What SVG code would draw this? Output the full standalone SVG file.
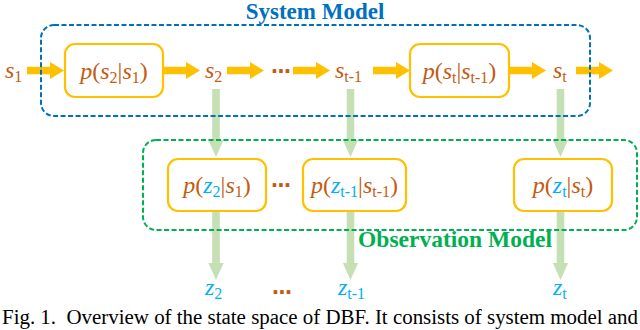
<svg xmlns="http://www.w3.org/2000/svg" xmlns:xlink="http://www.w3.org/1999/xlink" width="640" height="330" viewBox="0 0 640 330" font-family="'Liberation Serif','Times New Roman',serif">
<style>
.math{font-family:'Liberation Serif','Times New Roman',serif;font-size:24px;fill:#C55A11;}
.it{font-style:italic;}
.sub{font-size:16px;font-style:normal;}
.z{fill:#00B0F0;}
.node{fill:#FFFFFF;stroke:#FFC000;stroke-width:2.2;}
.dots{font-family:'Liberation Sans',Arial,sans-serif;font-weight:bold;font-size:25px;fill:#C55A11;letter-spacing:-0.5px;}
.title{font-family:'Liberation Serif','Times New Roman',serif;font-weight:bold;font-size:23px;}
.ya{fill:#FFC000;}
.ga{fill:#C5E0B4;}
.box{fill:none;stroke-width:2;stroke-dasharray:5 2.5;}
</style>
<defs>
<path id="yarrow" d="M0,-3.8 H23 V-8.5 L37,0 L23,8.5 V3.8 H0 Z"/>
<path id="garrow" d="M-3.8,0 V51 H-7.6 L0,68 L7.6,51 H3.8 V0 Z"/>
</defs>

<g id="connectors">
<use xlink:href="#yarrow" class="ya" x="27" y="70.5"/>
<use xlink:href="#yarrow" class="ya" x="163" y="70.5"/>
<use xlink:href="#yarrow" class="ya" x="227" y="70.5"/>
<use xlink:href="#yarrow" class="ya" x="293" y="70.5"/>
<use xlink:href="#yarrow" class="ya" x="373" y="70.5"/>
<use xlink:href="#yarrow" class="ya" x="509" y="70.5"/>
<use xlink:href="#yarrow" class="ya" x="576" y="70.5"/>
<use xlink:href="#garrow" class="ga" x="216" y="89"/>
<use xlink:href="#garrow" class="ga" x="350.5" y="89"/>
<use xlink:href="#garrow" class="ga" x="560.5" y="89"/>
<use xlink:href="#garrow" class="ga" x="216" y="212"/>
<use xlink:href="#garrow" class="ga" x="350.5" y="212"/>
<use xlink:href="#garrow" class="ga" x="560.5" y="212"/>
</g>

<g id="system-model">
<rect class="box" x="41" y="25" width="549" height="91" rx="13" stroke="#0070C0"/>
<text class="title" x="315" y="19" text-anchor="middle" fill="#0070C0">System Model</text>
</g>

<g id="observation-model">
<rect class="box" x="143" y="140" width="494" height="90" rx="13" stroke="#00B050"/>
<text class="title" x="455" y="247" text-anchor="middle" fill="#00B050" style="font-size:23.5px">Observation Model</text>
</g>

<g id="s1"><text class="math" x="5" y="78"><tspan class="it">s</tspan><tspan class="sub" dy="4">1</tspan></text></g>

<g id="p-s2-s1">
<rect class="node" x="65" y="44" width="98" height="53" rx="10"/>
<text class="math" x="114" y="79" text-anchor="middle"><tspan class="it">p</tspan>(<tspan class="it">s</tspan><tspan class="sub" dy="4">2</tspan><tspan dy="-4">|</tspan><tspan class="it">s</tspan><tspan class="sub" dy="4">1</tspan><tspan dy="-4">)</tspan></text>
</g>

<g id="s2"><text class="math" x="205" y="78"><tspan class="it">s</tspan><tspan class="sub" dy="4">2</tspan></text></g>

<g id="dots-top"><text class="dots" x="271" y="72.5">...</text></g>

<g id="s-t-1"><text class="math" x="335" y="78"><tspan class="it">s</tspan><tspan class="sub" dy="4">t-1</tspan></text></g>

<g id="p-st-st-1">
<rect class="node" x="410" y="44" width="99" height="53" rx="10"/>
<text class="math" x="459.5" y="79" text-anchor="middle"><tspan class="it">p</tspan>(<tspan class="it">s</tspan><tspan class="sub" dy="4">t</tspan><tspan dy="-4">|</tspan><tspan class="it">s</tspan><tspan class="sub" dy="4">t-1</tspan><tspan dy="-4">)</tspan></text>
</g>

<g id="st"><text class="math" x="553" y="78"><tspan class="it">s</tspan><tspan class="sub" dy="4">t</tspan></text></g>

<g id="p-z2-s1">
<rect class="node" x="168" y="159" width="98" height="52" rx="10"/>
<text class="math" x="217" y="193" text-anchor="middle"><tspan class="it">p</tspan>(<tspan class="it z">z</tspan><tspan class="sub z" dy="4">2</tspan><tspan dy="-4">|</tspan><tspan class="it">s</tspan><tspan class="sub" dy="4">1</tspan><tspan dy="-4">)</tspan></text>
</g>

<g id="dots-mid"><text class="dots" x="271" y="187">...</text></g>

<g id="p-zt-1-st-1">
<rect class="node" x="303" y="159" width="103" height="52" rx="10"/>
<text class="math" x="354.5" y="193" text-anchor="middle"><tspan class="it">p</tspan>(<tspan class="it z">z</tspan><tspan class="sub z" dy="4">t-1</tspan><tspan dy="-4">|</tspan><tspan class="it">s</tspan><tspan class="sub" dy="4">t-1</tspan><tspan dy="-4">)</tspan></text>
</g>

<g id="p-zt-st">
<rect class="node" x="514" y="159" width="98" height="52" rx="10"/>
<text class="math" x="563" y="193" text-anchor="middle"><tspan class="it">p</tspan>(<tspan class="it z">z</tspan><tspan class="sub z" dy="4">t</tspan><tspan dy="-4">|</tspan><tspan class="it">s</tspan><tspan class="sub" dy="4">t</tspan><tspan dy="-4">)</tspan></text>
</g>

<g id="z2"><text class="math z" x="205" y="295"><tspan class="it">z</tspan><tspan class="sub" dy="4">2</tspan></text></g>
<g id="dots-bottom"><text class="dots" x="272" y="294">...</text></g>
<g id="zt-1"><text class="math z" x="338" y="295"><tspan class="it">z</tspan><tspan class="sub" dy="4">t-1</tspan></text></g>
<g id="zt"><text class="math z" x="553" y="295"><tspan class="it">z</tspan><tspan class="sub" dy="4">t</tspan></text></g>

<g id="caption">
<text x="2" y="324" font-size="20" fill="#000000" textLength="636" lengthAdjust="spacingAndGlyphs" xml:space="preserve">Fig. 1.  Overview of the state space of DBF. It consists of system model and</text>
</g>
</svg>
